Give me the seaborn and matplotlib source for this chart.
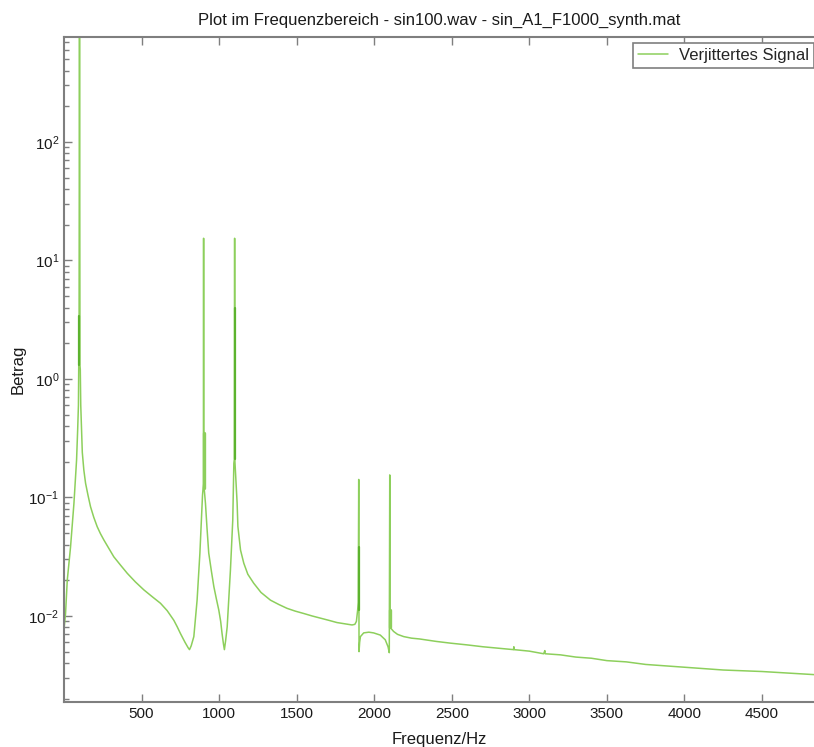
import matplotlib
matplotlib.use("Agg")
import matplotlib.pyplot as plt
import pandas as pd
import seaborn as sns

# Betragsspektrum des verjitterten Signals
freq_hz = [0, 5, 10, 21, 32, 42, 53, 64, 73, 81, 88, 93, 95, 97,
           100, 103, 105, 108, 118, 128, 139, 155, 171, 192, 214, 235, 257,
           290, 321, 365, 408, 460, 515, 570, 622, 665, 708, 730, 751, 780,
           800, 809, 820, 837, 858, 876, 886, 893, 897, 899, 900, 901, 903,
           906, 912, 922, 933, 950, 966, 982, 998, 1010, 1019, 1028, 1034,
           1042, 1052, 1062, 1073, 1088, 1095, 1098, 1100, 1102, 1107, 1116,
           1121, 1138, 1159, 1185, 1223, 1270, 1331, 1385, 1438, 1490, 1545,
           1600, 1653, 1706, 1760, 1810, 1857, 1875, 1885, 1893, 1897, 1900,
           1902, 1906, 1911, 1932, 1965, 1996, 2039, 2071, 2089, 2097, 2100,
           2102, 2110, 2125, 2150, 2190, 2240, 2292, 2400, 2491, 2600, 2700,
           2800, 2898, 2900, 2902, 3000, 3092, 3100, 3102, 3200, 3300, 3400,
           3500, 3625, 3750, 3870, 3994, 4120, 4250, 4375, 4499, 4670, 4836]
betrag = [0.0077, 0.0090, 0.0105, 0.020, 0.028, 0.038, 0.058, 0.089, 0.14, 0.207, 0.37, 0.6, 1.3, 1.4,
          3000, 1.3, 1.2, 0.6, 0.24, 0.17, 0.132, 0.104, 0.0836, 0.068, 0.0567, 0.0495, 0.0438,
          0.037, 0.0316, 0.0268, 0.0229, 0.0194, 0.0166, 0.0145, 0.0128, 0.0111, 0.0092, 0.0081, 0.0071, 0.0060,
          0.0054, 0.0052, 0.0056, 0.0067, 0.0136, 0.0338, 0.0646, 0.105, 0.12, 0.13, 15.4, 0.13, 0.12,
          0.11, 0.089, 0.055, 0.034, 0.024, 0.0177, 0.0140, 0.0112, 0.0090, 0.0071, 0.0058, 0.0052,
          0.0062, 0.0081, 0.0135, 0.0245, 0.0646, 0.194, 0.21, 15.4, 0.2, 0.15, 0.09,
          0.057, 0.036, 0.0279, 0.0225, 0.0189, 0.0158, 0.0136, 0.0125, 0.0116, 0.0110, 0.0105,
          0.0100, 0.0096, 0.0092, 0.0088, 0.0086, 0.0084, 0.0085, 0.0090, 0.0112, 0.013, 0.142,
          0.0050, 0.0060, 0.0067, 0.0072, 0.0073, 0.0072, 0.0069, 0.0063, 0.0055, 0.0049, 0.155,
          0.0082, 0.0078, 0.0074, 0.0070, 0.0067, 0.0065, 0.0064, 0.0061, 0.0059, 0.0057, 0.0055,
          0.00535, 0.0052, 0.0055, 0.0052, 0.00505, 0.0048, 0.0051, 0.0048, 0.0047, 0.0045, 0.0044,
          0.0042, 0.0041, 0.0039, 0.0038, 0.0037, 0.0036, 0.0035, 0.00345, 0.0034, 0.0033, 0.0032]

# Bereiche, in denen die Linie dicht ueberlagert und dunkler erscheint
dunkel_freq = [95, 95, 1100, 1100, 1900, 1900]
dunkel_wert = [1.3, 3.4, 0.21, 4.0, 0.0112, 0.038]
dunkel_seg = [0, 0, 1, 1, 2, 2]
dicht_freq = [900, 900, 2101, 2101]
dicht_wert = [0.12, 0.35, 0.0081, 0.0112]
dicht_seg = [0, 0, 1, 1]

xticks = [500, 1000, 1500, 2000, 2500, 3000, 3500, 4000, 4500]

sns.set_theme(style="white")
plt.rcParams["font.family"] = ["Liberation Sans", "DejaVu Sans"]

df = pd.DataFrame({"Frequenz": freq_hz, "Betrag": betrag})
df_dunkel = pd.DataFrame({"Frequenz": dunkel_freq, "Betrag": dunkel_wert, "seg": dunkel_seg})
df_dicht = pd.DataFrame({"Frequenz": dicht_freq, "Betrag": dicht_wert, "seg": dicht_seg})

fig = plt.figure(figsize=(8.14, 7.47), dpi=100)
ax = fig.add_axes([64 / 814, 45 / 747, 750 / 814, 665 / 747])

light = "#8dcf5c"
sns.lineplot(data=df, x="Frequenz", y="Betrag", sort=False, estimator=None,
             color=light, linewidth=1.1, label="Verjittertes Signal", ax=ax)
sns.lineplot(data=df_dicht, x="Frequenz", y="Betrag", units="seg", sort=False,
             estimator=None, color=light, linewidth=2.4, legend=False, ax=ax)
sns.lineplot(data=df_dunkel, x="Frequenz", y="Betrag", units="seg", sort=False,
             estimator=None, color="#5cb32e", linewidth=1.6, legend=False, ax=ax)

ax.set_yscale("log")
ax.set_xlim(0, 4835)
ax.set_ylim(0.00188, 769)
ax.set_xticks(xticks)

grey = "#7f7f7f"
for side in ["left", "bottom", "top"]:
    ax.spines[side].set_color(grey)
    ax.spines[side].set_linewidth(1.5)
ax.spines["right"].set_visible(False)

ax.tick_params(which="both", direction="in", top=True, bottom=True, left=True,
               right=False, color=grey, labelcolor="#1a1a1a", labelsize=11)
ax.tick_params(which="major", length=6, width=1)
ax.tick_params(which="minor", length=3.5, width=1)
ax.tick_params(axis="x", which="minor", top=False, bottom=False)

ax.set_title("Plot im Frequenzbereich - sin100.wav - sin_A1_F1000_synth.mat",
             fontsize=12, color="#1a1a1a", pad=9)
ax.set_xlabel("Frequenz/Hz", fontsize=12, color="#1a1a1a", labelpad=8)
ax.set_ylabel("Betrag", fontsize=12, color="#1a1a1a", labelpad=2)

leg = ax.legend(loc="upper right", bbox_to_anchor=(1.0, 1 - 6 / 665), borderaxespad=0,
                fancybox=False, edgecolor=grey, framealpha=1, fontsize=12,
                handlelength=1.8, handletextpad=0.64, borderpad=0.3)
leg.get_frame().set_linewidth(1.2)

fig.savefig("out.png", dpi=100)
